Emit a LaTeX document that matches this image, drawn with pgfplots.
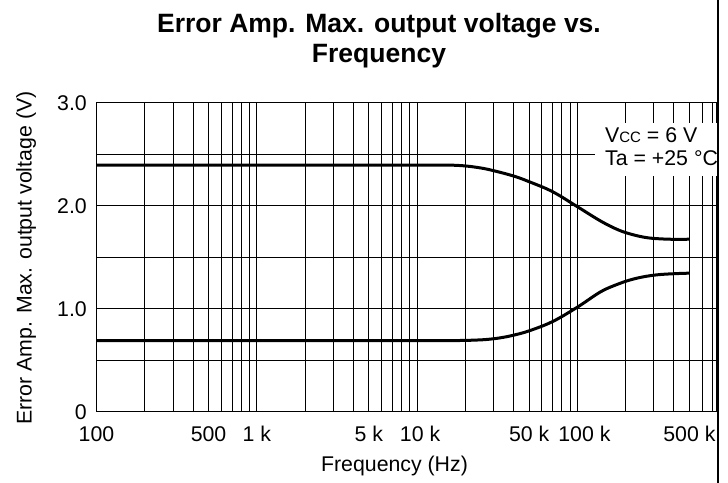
\documentclass[border=0pt]{standalone}
\usepackage{fontspec}
\setmainfont{Liberation Sans}
\usepackage{pgfplots}
\pgfplotsset{compat=1.18}
\newcommand\lbl{\fontsize{21.3bp}{25bp}\selectfont}
\newcommand\ttl{\fontsize{26.5bp}{30bp}\selectfont\bfseries}
\begin{document}
\begin{tikzpicture}
\useasboundingbox (-96.5bp,-71.3bp) rectangle (631.5bp,411.7bp);
\begin{axis}[
  at={(0,0)}, anchor=south west,
  scale only axis, width=620.5bp, height=309bp,
  xmode=log, xmin=100, xmax=7.43e5, ymin=0, ymax=3,
  xtick={100,500,1000,5000,10000,50000,100000,500000},
  xticklabels={100,500,1 k,5 k,\hspace*{6bp}10 k,50 k,\hspace*{14bp}100 k,500 k},
  minor xtick={200,300,400,600,700,800,900,2000,3000,4000,6000,7000,8000,9000,20000,30000,40000,60000,70000,80000,90000,200000,300000,400000,600000,700000},
  ytick={0,1,2,3}, yticklabels={0,1.0,2.0,3.0},
  minor ytick={0.5,1.5,2.5},
  grid=both,
  major grid style={black, line width=0.9bp},
  minor grid style={black, line width=0.9bp},
  major tick length=0pt, minor tick length=0pt,
  axis line style={black, line width=1.5bp},
  ticklabel style={font=\lbl},
  xticklabel style={anchor=base, inner sep=0pt, yshift=-30bp},
  yticklabel style={anchor=east, inner sep=0pt, xshift=-9.5bp},
  /pgf/number format/assume math mode=true,
]
\addplot[black, line width=3bp, smooth, tension=0.6] coordinates {
 (100,2.395) (1000,2.395) (5000,2.395) (12000,2.395) (16000,2.394) (20000,2.386) (25000,2.366) (30000,2.34) (40000,2.288)
 (50000,2.233) (70000,2.136) (100000,1.99)
 (140000,1.85) (180000,1.765) (220000,1.72) (270000,1.69) (330000,1.678) (420000,1.673) (500000,1.675)};
\addplot[black, line width=3bp, smooth, tension=0.6] coordinates {
 (100,0.69) (1000,0.69) (5000,0.69) (13000,0.69) (18000,0.691) (22000,0.694) (27000,0.701) (33000,0.717) (40000,0.743)
 (50000,0.785) (70000,0.875) (100000,1.015)
 (140000,1.165) (180000,1.24) (220000,1.285) (270000,1.315) (330000,1.332) (420000,1.341) (500000,1.345)};
\end{axis}
% annotation box
\fill[white] (498.5bp,235.7bp) rectangle (621bp,288.7bp);
\node[anchor=base west, inner sep=0pt, font=\lbl] at (508.5bp,268.7bp) {V{\fontsize{15bp}{15bp}\selectfont CC} = 6 V};
\node[anchor=base west, inner sep=0pt, font=\lbl] at (508.5bp,245.7bp) {Ta = +25 °C};
% title
\node[anchor=base, inner sep=0pt, font=\ttl] at (282.5bp,378.7bp) {Error Amp. Max. output voltage vs.};
\node[anchor=base, inner sep=0pt, font=\ttl] at (282.5bp,348.7bp) {Frequency};
% axis labels
\node[anchor=base, inner sep=0pt, font=\lbl] at (298bp,-59.3bp) {Frequency (Hz)};
\node[anchor=base, inner sep=0pt, font=\lbl, rotate=90] at (-64.8bp,153.7bp) {Error Amp. Max. output voltage (V)};
% cropped right edge
\fill[white] (622.2bp,-71.3bp) rectangle (631.5bp,411.7bp);
\draw[black, line width=2bp] (621.2bp,-71.3bp) -- (621.2bp,411.7bp);
\end{tikzpicture}
\end{document}
